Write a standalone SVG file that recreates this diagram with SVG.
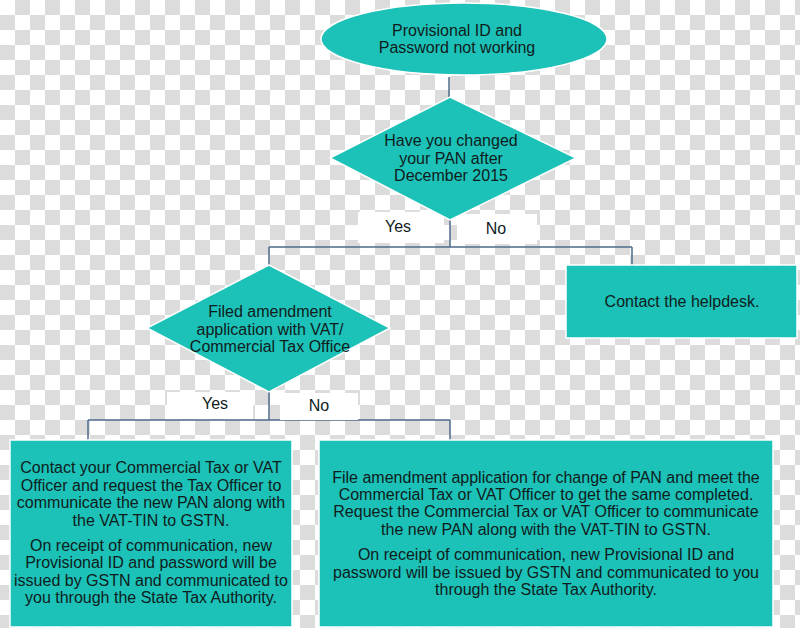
<svg xmlns="http://www.w3.org/2000/svg" width="800" height="628" viewBox="0 0 800 628">
<style>
.node{fill:#1cc1b7;stroke:#ffffff;stroke-width:1.5}
.t{font-family:"Liberation Sans",Arial,sans-serif;font-size:16px;fill:#0f1c1c;text-anchor:middle}
.lbl{fill:#ffffff}
.conn{fill:none;stroke:#4e6b8c;stroke-width:1.5}
</style>
<defs>
<pattern id="checker" width="30" height="30" patternUnits="userSpaceOnUse">
<rect width="30" height="30" fill="#ffffff"/>
<rect x="15" y="0" width="15" height="15" fill="#dcdcdc"/>
<rect x="0" y="15" width="15" height="15" fill="#dcdcdc"/>
</pattern>
</defs>
<rect width="800" height="628" fill="url(#checker)"/>

<g id="connectors">
<path class="conn" d="M449 77 V97"/>
<path class="conn" d="M450 220 V247 M269 247 H632 M269 247 V265 M632 247 V265"/>
<path class="conn" d="M269 392 V420 M88 420 H450 M88 420 V440 M450 420 V440"/>
</g>

<g id="labels">
<rect class="lbl" x="358" y="212" width="86" height="31"/>
<text class="t" x="398" y="232">Yes</text>
<rect class="lbl" x="457" y="214" width="80" height="30"/>
<text class="t" x="496" y="234">No</text>
<rect class="lbl" x="167" y="392" width="86" height="27"/>
<text class="t" x="215" y="409">Yes</text>
<rect class="lbl" x="280" y="393" width="78" height="27"/>
<text class="t" x="319" y="411">No</text>
</g>

<g id="start">
<ellipse class="node" cx="464" cy="39" rx="143" ry="36"/>
<text class="t" x="457" y="36">Provisional ID and</text>
<text class="t" x="457" y="53">Password not working</text>
</g>

<g id="decision-pan">
<polygon class="node" points="450,97 576,158 450,220 330,158"/>
<text class="t" x="451" y="146">Have you changed</text>
<text class="t" x="451" y="164">your PAN after</text>
<text class="t" x="451" y="181">December 2015</text>
</g>

<g id="helpdesk">
<rect class="node" x="566" y="265" width="231" height="73"/>
<text class="t" x="682" y="307">Contact the helpdesk.</text>
</g>

<g id="decision-amendment">
<polygon class="node" points="269,265 390,328 269,392 147,328"/>
<text class="t" x="270" y="317">Filed amendment</text>
<text class="t" x="270" y="335">application with VAT/</text>
<text class="t" x="270" y="352">Commercial Tax Office</text>
</g>

<g id="contact-officer">
<rect class="node" x="10" y="440" width="282" height="187"/>
<text class="t" x="151" y="473">Contact your Commercial Tax or VAT</text>
<text class="t" x="151" y="491">Officer and request the Tax Officer to</text>
<text class="t" x="151" y="508">communicate the new PAN along with</text>
<text class="t" x="151" y="526">the VAT-TIN to GSTN.</text>
<text class="t" x="151" y="551">On receipt of communication, new</text>
<text class="t" x="151" y="568">Provisional ID and password will be</text>
<text class="t" x="151" y="586">issued by GSTN and communicated to</text>
<text class="t" x="151" y="603">you through the State Tax Authority.</text>
</g>

<g id="file-amendment">
<rect class="node" x="319" y="440" width="454" height="187"/>
<text class="t" x="546" y="483">File amendment application for change of PAN and meet the</text>
<text class="t" x="546" y="500">Commercial Tax or VAT Officer to get the same completed.</text>
<text class="t" x="546" y="517">Request the Commercial Tax or VAT Officer to communicate</text>
<text class="t" x="546" y="535">the new PAN along with the VAT-TIN to GSTN.</text>
<text class="t" x="546" y="560">On receipt of communication, new Provisional ID and</text>
<text class="t" x="546" y="578">password will be issued by GSTN and communicated to you</text>
<text class="t" x="546" y="595">through the State Tax Authority.</text>
</g>
</svg>
